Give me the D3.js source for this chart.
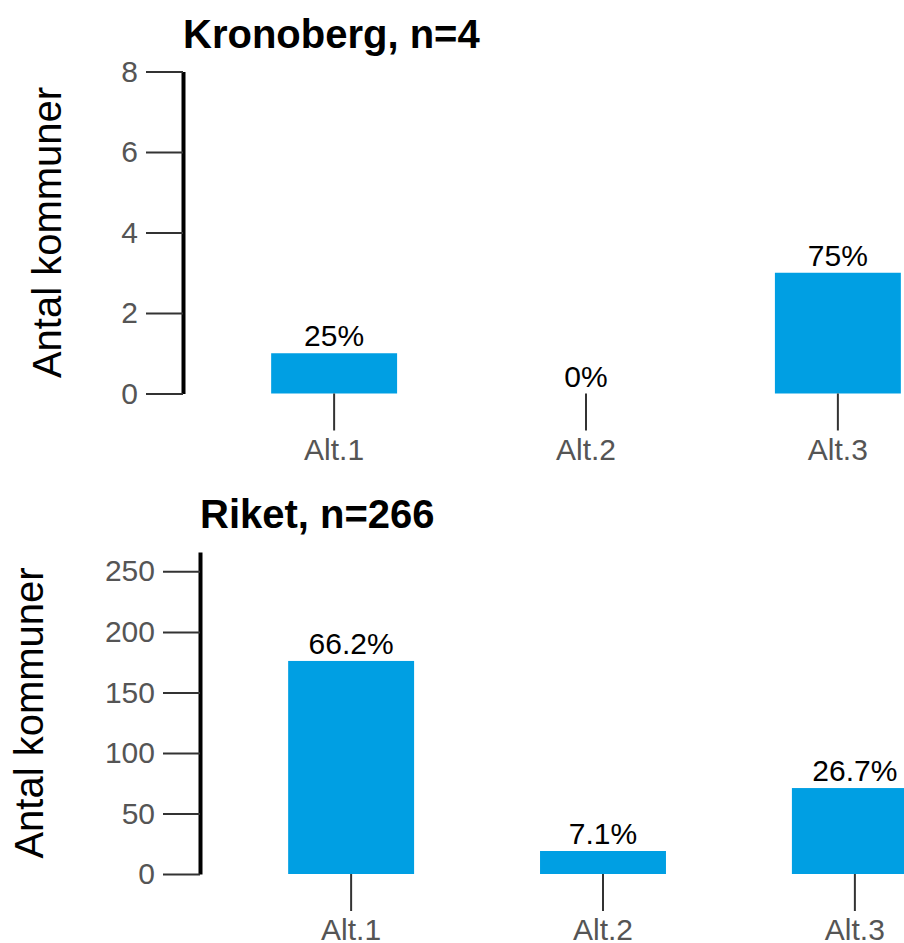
<!DOCTYPE html>
<html>
<head>
<meta charset="utf-8">
<script src="https://cdn.jsdelivr.net/npm/d3@7"></script>
<style>
  body { margin: 0; background: #fff; }
  svg { display: block; font-family: Arial, "Liberation Sans", sans-serif; }
</style>
</head>
<body>
<svg id="chart" width="904" height="943"></svg>
<script>
const categories = ['Alt.1', 'Alt.2', 'Alt.3'];

const kronobergValues = [1, 0, 3];
const kronobergPercent = ['25%', '0%', '75%'];
const kronobergTicks = [0, 2, 4, 6, 8];

const riketValues = [176, 19, 71];
const riketPercent = ['66.2%', '7.1%', '26.7%'];
const riketTicks = [0, 50, 100, 150, 200, 250];

const panels = [
  { title: 'Kronoberg, n=4', values: kronobergValues, percent: kronobergPercent, ticks: kronobergTicks, max: 8, left: 183, top: 71.5, titleX: 61 },
  { title: 'Riket, n=266', values: riketValues, percent: riketPercent, ticks: riketTicks, max: 266, left: 200, top: 552, titleX: 43 }
];

const height = 322;
const width = 806;

const svg = d3.select('#chart');

panels.forEach(p => {
  const g = svg.append('g')
    .attr('transform', `translate(${p.left},${p.top})`);

  const x = d3.scaleBand()
    .domain(categories)
    .range([0, width])
    .paddingInner(0.5)
    .paddingOuter(0.35);

  const y = d3.scaleLinear()
    .domain([0, p.max])
    .range([height, 0]);

  // bars
  g.selectAll('.bar')
    .data(p.values)
    .enter().append('rect')
    .attr('class', 'bar')
    .attr('x', (d, i) => x(categories[i]))
    .attr('y', d => y(d))
    .attr('width', x.bandwidth())
    .attr('height', d => height - y(d))
    .attr('fill', '#009fe3');

  // percent labels
  g.selectAll('.pct')
    .data(p.percent)
    .enter().append('text')
    .attr('class', 'pct')
    .attr('x', (d, i) => x(categories[i]) + x.bandwidth() / 2)
    .attr('y', (d, i) => y(p.values[i]) - 7)
    .attr('text-anchor', 'middle')
    .attr('font-size', 30)
    .attr('fill', '#000')
    .text(d => d);

  // x axis
  const xAxis = g.append('g')
    .attr('transform', `translate(0,${height})`)
    .call(d3.axisBottom(x).tickSize(37).tickSizeOuter(0).tickPadding(8));
  xAxis.select('.domain').remove();
  xAxis.selectAll('.tick line').attr('stroke', '#333').attr('stroke-width', 2);
  xAxis.selectAll('.tick text')
    .attr('font-size', 30)
    .attr('font-family', 'Arial, "Liberation Sans", sans-serif')
    .attr('fill', '#555');

  // y axis
  const yAxis = g.append('g')
    .call(d3.axisLeft(y).tickValues(p.ticks).tickSize(37).tickSizeOuter(0).tickPadding(8));
  yAxis.select('.domain').attr('stroke', '#000').attr('stroke-width', 4);
  yAxis.selectAll('.tick line').attr('stroke', '#333').attr('stroke-width', 2);
  yAxis.selectAll('.tick text')
    .attr('font-size', 30)
    .attr('font-family', 'Arial, "Liberation Sans", sans-serif')
    .attr('fill', '#555');

  // titles
  svg.append('text')
    .attr('x', p.left)
    .attr('y', p.top - 24)
    .attr('font-size', 40)
    .attr('font-weight', 'bold')
    .attr('fill', '#000')
    .text(p.title);

  svg.append('text')
    .attr('transform', `translate(${p.titleX},${p.top + height / 2}) rotate(-90)`)
    .attr('text-anchor', 'middle')
    .attr('font-size', 40)
    .attr('fill', '#000')
    .text('Antal kommuner');
});
</script>
</body>
</html>
